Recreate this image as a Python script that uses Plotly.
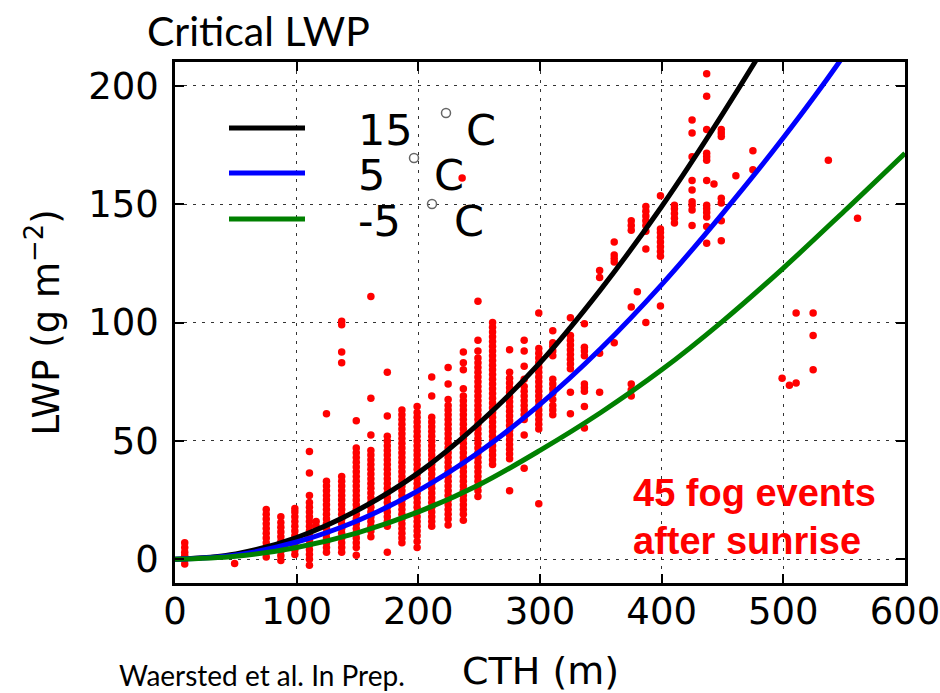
import plotly.graph_objects as go

# ---------------- data ----------------
curve_cth = [0, 50, 100, 150, 200, 250, 300, 350, 400, 450, 500, 550, 600]
lwp_15C = [0, 2.3, 9.2, 20.7, 36.5, 57.5, 83, 114, 149, 188, 230, 276, 326]
lwp_5C = [0, 1.8, 7.3, 16.3, 29, 45.3, 65.4, 89, 116, 146, 178, 213, 253]
lwp_m5C = [0, 1.25, 5, 11.2, 20, 31.5, 46, 62, 80, 100.5, 123, 147, 171.5]
curve_names = ["15", "5", "-5"]
curve_colors = ["#000000", "#0000ff", "#008000"]

column_cth = [8, 49, 75, 87, 98.5, 110.5, 116, 124.5, 137, 149, 161, 174.5, 186.5, 199,
              211, 224.5, 236, 237, 249, 261, 275, 287, 299, 310.5, 325, 336.5, 349, 361,
              375, 380, 387, 399, 410.5, 425, 437, 443, 449, 461, 475, 499, 505, 510.5,
              524.5, 537, 561]
column_lwp = [
    [-2, 0, 1.5, 3, 5, 7],
    [-1.8],
    [1, 3, 5, 7, 9, 11, 13, 15, 17, 19, 21],
    [-0.5, 1.5, 3.5, 5.5, 7.5, 9.5, 11.5, 13.5, 15.5, 18],
    [2, 4, 6, 8, 10, 12, 14, 16, 18, 20, 21.5],
    [-2.5, 0, 2, 4, 6, 8, 10, 12, 14, 16, 18, 20, 22, 24, 27, 36.5, 45.5],
    [14, 16],
    [3, 5, 7, 9, 11, 13, 15, 17, 19, 21, 23, 25, 27, 29, 31, 33, 61.5],
    [3, 5, 7, 9, 11, 13, 15, 17, 19, 21, 23, 25, 27, 29, 31, 33, 35, 83, 87.5, 99, 100.5],
    [1.7, 5, 7, 9, 11, 13, 15, 17, 19, 21, 23, 25, 27, 29, 31, 33, 35, 37, 39, 41, 43, 45, 47, 58.5],
    [9.5, 12, 14, 16, 18, 20, 22, 24, 26, 28, 30, 32, 34, 36, 38, 40, 42, 44, 46, 52.5, 68, 111],
    [3, 14, 16, 18, 20, 22, 24, 26, 28, 30, 32, 34, 36, 38, 40, 42, 44, 46, 48, 50, 52, 60.5, 79],
    [7, 9, 11, 13, 15, 17, 19, 21, 23, 25, 27, 29, 31, 33, 35, 37, 39, 41, 43, 45, 47, 49, 51,
     53, 55, 57, 59, 61, 63],
    [5, 7.5, 10, 12, 14, 16, 18, 20, 22, 24, 26, 28, 30, 32, 34, 36, 38, 40, 42, 44, 46, 48, 50,
     52, 54, 56, 58, 60, 62, 64.5],
    [14, 16, 18, 20, 22, 24, 26, 28, 30, 32, 34, 36, 38, 40, 42, 44, 46, 48, 50, 52, 54, 56, 58,
     60, 69, 77],
    [14.5, 17, 19, 21, 23, 25, 27, 29, 31, 33, 35, 37, 39, 41, 43, 45, 47, 49, 51, 53, 55, 57, 59,
     61, 63, 65, 67.5, 74, 81],
    [161],
    [16.5, 19, 21, 23, 25, 27, 29, 31, 33, 35, 37, 39, 41, 43, 45, 47, 49, 51, 53, 55, 57, 59, 61,
     63, 65, 67, 69, 72, 80, 83, 87.5],
    [26.5, 29, 31, 33, 35, 37, 39, 41, 43, 45, 47, 49, 51, 53, 55, 57, 59, 61, 63, 65, 67, 69, 71,
     73, 75, 77, 79, 81, 83, 85, 88, 92.5, 109],
    [40, 42, 44, 46, 48, 50, 52, 54, 56, 58, 60, 62, 64, 66, 68, 70, 72, 74, 76, 78, 80, 82, 84,
     86, 88, 90, 92, 94, 96, 98, 100],
    [29, 42.5, 44.5, 46.5, 48.5, 50.5, 52.5, 54.5, 56.5, 58.5, 60.5, 62.5, 64.5, 66.5, 68.5, 70.5,
     72.5, 74.5, 76.5, 79, 88.5],
    [38.5, 52.5, 59, 61, 63, 65, 67, 69, 71, 73, 76, 81.5, 88, 92.5],
    [23.5, 55, 57, 59, 61, 63, 65, 67, 69, 71, 73, 75, 77, 79, 81, 83, 85, 87, 89, 104],
    [61, 63, 65, 67.5, 70, 72, 74, 76, 86, 88, 90, 91.5, 96.5],
    [61.5, 70.5, 80.5, 82.5, 84.5, 86.5, 88.5, 90.5, 92.5, 94.5, 102],
    [55.5, 64.5, 71, 72.5, 74, 86, 88, 89.5, 99.5],
    [70.5, 87, 119, 122],
    [91.5, 125.5, 127, 128.5, 134],
    [69, 71.5, 74, 106.5, 139, 141, 143],
    [113],
    [100, 131, 138.5, 141, 143, 145, 147, 149],
    [107, 128, 130, 132, 134, 136, 138, 139.5, 153.5],
    [142, 144, 146, 148, 149.5],
    [141, 147.5, 149.5, 151, 156, 160, 170, 180, 185.5],
    [133.5, 140.5, 144.5, 146.5, 148, 149.5, 160, 168.5, 170, 171.5, 181.5, 195.5, 205],
    [158.5],
    [134.5, 143, 150.5, 152.5, 178.5, 180, 181.5],
    [162],
    [164.5, 172.5],
    [76.5],
    [73.5],
    [74.5, 104],
    [80, 94.5, 104],
    [168.5],
    [144],
]

x_ticks = [0, 100, 200, 300, 400, 500, 600]
y_ticks = [0, 50, 100, 150, 200]

# ---------------- figure ----------------
obs_x, obs_y = [], []
for cx, vals in zip(column_cth, column_lwp):
    for v in vals:
        obs_x.append(cx)
        obs_y.append(v)

fig = go.Figure()
fig.add_trace(go.Scatter(x=obs_x, y=obs_y, mode="markers",
                         marker=dict(color="#ff0000", size=7.5, line=dict(width=0)),
                         showlegend=False, hoverinfo="skip"))
for ys, col in zip([lwp_15C, lwp_5C, lwp_m5C], curve_colors):
    fig.add_trace(go.Scatter(x=curve_cth, y=ys, mode="lines",
                             line=dict(color=col, width=5, shape="spline"),
                             showlegend=False))

L, R, T, B = 175, 905, 62, 583
W, H = 940, 693
def px(xp):
    return (xp - L) / (R - L)
def py(yp):
    return (B - yp) / (B - T)

tick_font = dict(family="DejaVu Sans", size=37, color="black")
axis_common = dict(showline=True, linewidth=2.5, linecolor="black", mirror="allticks",
                   ticks="inside", ticklen=9, tickwidth=1.5, tickcolor="black",
                   showgrid=True, gridcolor="#333333", gridwidth=1, griddash="3px,6px",
                   zeroline=False, tickfont=tick_font, automargin=False,
                   ticklabeloverflow="allow")

fig.update_xaxes(range=[0, 600], tickvals=x_ticks, ticktext=[str(t) for t in x_ticks],
                 ticklabelstandoff=-6, **axis_common)
fig.update_yaxes(range=[-10, 210], tickvals=y_ticks, ticktext=[str(t) for t in y_ticks],
                 title=dict(text="LWP (g m<sup>\u22122</sup>)", font=tick_font, standoff=18),
                 ticklabelstandoff=6, **axis_common)

shapes = []
annotations = []
leg_y = [128, 173, 219]
ring_x = [446, 414, 432]
c_x = [467, 435, 455]
for i, (name, col) in enumerate(zip(curve_names, curve_colors)):
    yy = leg_y[i]
    shapes.append(dict(type="line", xref="paper", yref="paper",
                       x0=px(229), x1=px(305), y0=py(yy), y1=py(yy),
                       line=dict(color=col, width=5)))
    annotations.append(dict(text=name, xref="paper", yref="paper", x=px(356), y=py(yy + 2),
                            xanchor="left", yanchor="middle", showarrow=False,
                            font=dict(family="DejaVu Sans", size=43, color="black")))
    rc = ring_x[i]
    ry = yy - 15
    shapes.append(dict(type="circle", xref="paper", yref="paper",
                       x0=px(rc - 4.5), x1=px(rc + 4.5), y0=py(ry + 4.5), y1=py(ry - 4.5),
                       line=dict(color="#666666", width=1.5)))
    annotations.append(dict(text="C", xref="paper", yref="paper", x=px(c_x[i] - 3), y=py(yy + 2),
                            xanchor="left", yanchor="middle", showarrow=False,
                            font=dict(family="DejaVu Sans", size=43, color="black")))

annotations.append(dict(text="CTH (m)", xref="paper", yref="paper", x=0.5, y=py(671),
                        xanchor="center", yanchor="middle", showarrow=False,
                        font=dict(family="DejaVu Sans", size=38, color="black")))
annotations.append(dict(text="Critical LWP", xref="paper", yref="paper", x=px(145), y=py(30),
                        xanchor="left", yanchor="middle", showarrow=False,
                        font=dict(family="Lato", size=41, color="black")))
annotations.append(dict(text="45 fog events", xref="paper", yref="paper", x=px(631), y=py(493),
                        xanchor="left", yanchor="middle", showarrow=False,
                        font=dict(family="Liberation Sans", size=38,
                                  color="#ff0000", weight="bold")))
annotations.append(dict(text="after sunrise", xref="paper", yref="paper", x=px(631), y=py(541),
                        xanchor="left", yanchor="middle", showarrow=False,
                        font=dict(family="Liberation Sans", size=38,
                                  color="#ff0000", weight="bold")))
annotations.append(dict(text="Waersted et al. In Prep.", xref="paper", yref="paper",
                        x=px(117), y=py(675), xanchor="left", yanchor="middle", showarrow=False,
                        font=dict(family="Lato", size=28, color="black")))

fig.update_layout(width=W, height=H, margin=dict(l=L, r=W - R, t=T, b=H - B),
                  plot_bgcolor="white", paper_bgcolor="white", showlegend=False,
                  shapes=shapes, annotations=annotations)

fig.write_html("out.html")
